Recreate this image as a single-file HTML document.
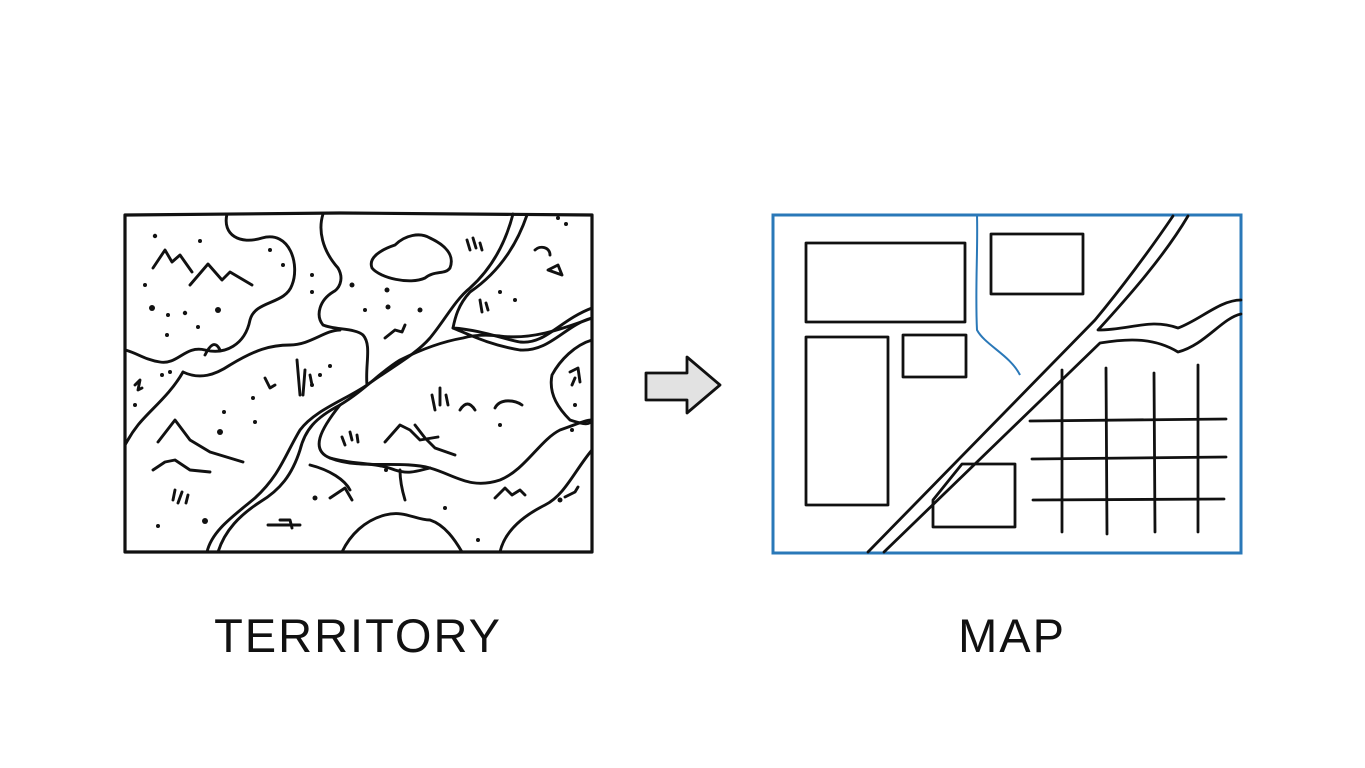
<!DOCTYPE html>
<html><head><meta charset="utf-8"><style>
html,body{margin:0;padding:0;background:#fff;}
svg{display:block}
text{font-family:"Liberation Sans",sans-serif;}
</style></head><body>
<svg width="1365" height="768" viewBox="0 0 1365 768" xmlns="http://www.w3.org/2000/svg">
<rect width="1365" height="768" fill="#fff"/>
<g fill="none" stroke="#111" stroke-width="2.9" stroke-linecap="round" stroke-linejoin="round">
<path d="M125,215 L340,213 L592,215 L592,552 L125,552 Z" stroke-width="3.2"/>
<path d="M227,214 C222,235 240,245 262,238 C290,230 300,265 292,285 C285,305 255,300 250,320 C245,345 225,355 205,350 C185,345 178,365 160,362 C145,360 135,352 125,350"/>
<path d="M183,372 C170,395 150,410 138,425 C130,435 128,440 125,445"/>
<path d="M183,372 C200,380 215,375 230,365 C255,350 270,345 290,345 C310,345 325,330 340,330"/>
<path d="M323,214 C318,230 322,250 338,268 C345,280 338,290 333,292 C320,300 315,315 323,325 C335,330 355,328 363,335 C372,345 365,365 367,385"/>
<path d="M513,214 C505,245 490,270 470,288 C455,300 445,320 430,338 C415,355 395,365 367,385 C345,400 315,410 300,430 C285,455 280,475 255,498 C235,515 212,530 207,552"/>
<path d="M527,215 C515,250 495,275 470,292 C458,305 455,318 453,328 C480,330 500,338 520,342 C545,345 560,320 592,308"/>
<path d="M453,328 C470,335 490,345 520,350 C550,352 565,325 592,318"/>
<path d="M592,318 C560,330 530,340 500,336 C480,334 470,336 463,338 C440,342 420,350 400,360 C380,372 365,390 340,405 C315,418 305,430 300,450 C292,475 280,490 260,502 C240,515 225,530 218,552"/>
<path d="M340,405 C320,430 310,450 330,458 C355,465 375,462 395,470 C410,475 420,470 430,468"/>
<path d="M310,465 C330,470 345,480 350,490"/>
<path d="M330,458 C360,470 400,460 430,468 C455,475 470,490 500,480 C525,470 540,440 560,430 C575,425 585,420 592,420"/>
<path d="M592,340 C575,345 560,360 552,375 C548,395 560,410 570,420 C585,425 590,425 592,420"/>
<path d="M400,470 C400,480 402,490 405,500"/>
<path d="M342,552 C350,535 365,520 385,515 C405,510 415,520 430,520 C445,525 455,540 462,552"/>
<path d="M500,552 C505,530 525,515 545,505 C565,495 575,470 592,450"/>
<path d="M372,268 C368,258 380,250 395,245 C405,235 420,232 430,238 C445,245 455,255 450,268 C445,275 435,270 425,278 C410,285 380,278 372,268 Z"/>
<path d="M153,268 L165,250 L172,262 L180,255 L192,272"/>
<path d="M190,285 L208,264 L222,280 L230,272 L252,285"/>
<path d="M205,355 C210,345 215,340 220,350"/>
<path d="M158,442 L175,420 L190,440 L210,452 L243,462"/>
<path d="M153,470 L165,462 L175,460 L190,470 L210,472"/>
<path d="M385,442 L400,425 L410,430 L420,440 L438,437"/>
<path d="M415,425 L425,438 L435,448 L455,455"/>
<path d="M330,498 L345,488 L352,500"/>
<path d="M495,498 L505,488 L512,495 L520,490 L525,495"/>
<path d="M460,410 C465,402 470,402 475,410"/>
<path d="M495,408 C500,398 515,400 522,405"/>
<path d="M173,500 L175,490 M178,503 L182,492 M186,503 L188,495"/>
<path d="M297,360 L300,395 M305,370 L303,395 M310,375 L312,385"/>
<path d="M467,240 L470,250 M473,238 L476,248 M480,243 L482,250"/>
<path d="M480,300 L482,312 M486,303 L488,310"/>
<path d="M432,395 L435,410 M440,388 L440,405 M446,395 L448,405"/>
<path d="M342,437 L345,445 M350,432 L352,440 M357,435 L358,442"/>
<path d="M385,338 L395,330 L402,332 L405,325"/>
<path d="M265,378 L270,388 L275,385"/>
<path d="M535,250 C540,245 550,247 550,255 M548,270 L558,265 L562,275 Z"/>
<path d="M570,372 L578,368 L580,382 M575,378 L572,385"/>
<path d="M565,497 L575,492 L578,487"/>
<path d="M135,385 L140,380 L138,390 L142,388"/>
<path d="M280,520 L290,520 L292,528 M268,525 L300,525"/>
</g>
<g fill="#111">
<circle cx="155" cy="236" r="2.2"/><circle cx="200" cy="241" r="2"/><circle cx="152" cy="308" r="3"/><circle cx="168" cy="315" r="2"/><circle cx="185" cy="313" r="2.2"/><circle cx="218" cy="310" r="3"/><circle cx="145" cy="285" r="2"/><circle cx="167" cy="335" r="2"/><circle cx="198" cy="327" r="2"/><circle cx="270" cy="250" r="2"/><circle cx="283" cy="265" r="2"/><circle cx="312" cy="275" r="2"/><circle cx="312" cy="292" r="2"/><circle cx="352" cy="285" r="2.5"/><circle cx="387" cy="290" r="2.5"/><circle cx="388" cy="307" r="2.5"/><circle cx="365" cy="310" r="2"/><circle cx="420" cy="310" r="2.5"/><circle cx="224" cy="412" r="2"/><circle cx="253" cy="398" r="2"/><circle cx="220" cy="432" r="3"/><circle cx="255" cy="422" r="2"/><circle cx="158" cy="526" r="2"/><circle cx="205" cy="521" r="3"/><circle cx="312" cy="385" r="2"/><circle cx="330" cy="366" r="2"/><circle cx="320" cy="375" r="2"/><circle cx="500" cy="292" r="2"/><circle cx="515" cy="300" r="2"/><circle cx="575" cy="405" r="2"/><circle cx="572" cy="430" r="2"/><circle cx="500" cy="425" r="2"/><circle cx="560" cy="500" r="2.5"/><circle cx="478" cy="540" r="2"/><circle cx="315" cy="498" r="2.5"/><circle cx="386" cy="470" r="2"/><circle cx="445" cy="508" r="2"/><circle cx="135" cy="405" r="2"/><circle cx="162" cy="375" r="2"/><circle cx="170" cy="372" r="2"/><circle cx="558" cy="218" r="2"/><circle cx="566" cy="224" r="2"/>
</g>
<path d="M646,373 L687,373 L687,357 L720,385 L687,413 L687,400 L646,400 Z" fill="#e2e2e2" stroke="#111" stroke-width="2.8" stroke-linejoin="round"/>
<rect x="773" y="215" width="468" height="338" fill="none" stroke="#2a78b8" stroke-width="3"/>
<path d="M977,215 C978,250 975,290 977,330 C985,345 1010,355 1020,375" fill="none" stroke="#2a78b8" stroke-width="2"/>
<g fill="none" stroke="#111" stroke-width="2.8" stroke-linejoin="round" stroke-linecap="round">
<rect x="806" y="243" width="159" height="79"/>
<rect x="991" y="234" width="92" height="60"/>
<rect x="903" y="335" width="63" height="42"/>
<rect x="806" y="337" width="82" height="168"/>
<path d="M933,500 L962,464 L1015,464 L1015,527 L933,527 Z"/>
<path d="M1173,216 C1150,250 1120,290 1095,320 L868,552"/>
<path d="M1188,216 C1165,255 1130,295 1098,330 C1130,330 1150,318 1178,328 C1200,320 1220,300 1241,300"/>
<path d="M884,552 L1100,343 C1130,338 1155,338 1178,352 C1205,345 1222,318 1241,314"/>
<path d="M1062,370 L1062,532 M1106,368 L1107,534 M1154,373 L1155,532 M1198,365 L1198,532"/>
<path d="M1030,421 L1226,419 M1032,459 L1226,457 M1033,500 L1224,499"/>
</g>
<text x="358" y="652" font-size="47" text-anchor="middle" fill="#111" letter-spacing="2">TERRITORY</text>
<text x="1012" y="652" font-size="47" text-anchor="middle" fill="#111" letter-spacing="2">MAP</text>
</svg>
</body></html>
